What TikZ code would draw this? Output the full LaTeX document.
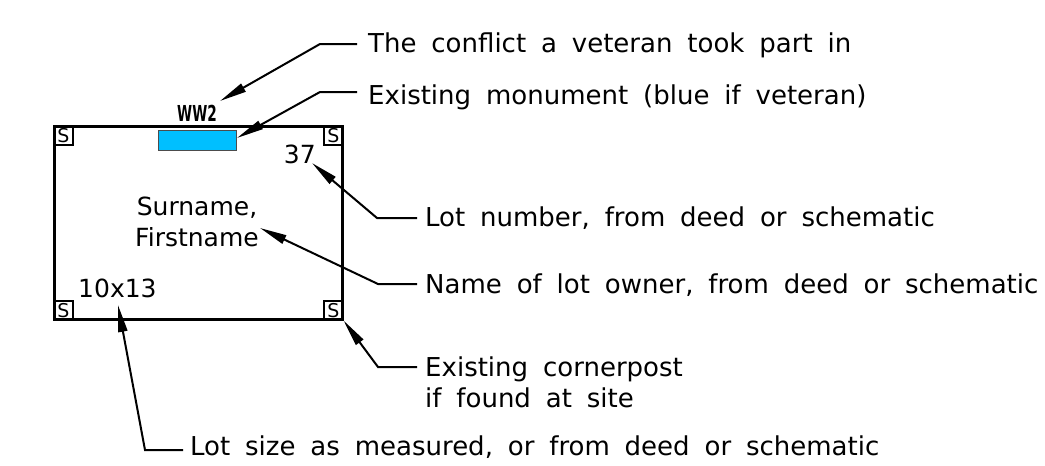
\documentclass[tikz,border=0pt]{standalone}
\usepackage{graphicx}
\usepackage{fontspec}
\setmainfont{DejaVu Sans}[WordSpace=1.8]
\usetikzlibrary{arrows.meta}
\begin{document}
\begin{tikzpicture}[x=1pt,y=-1pt,
  lbl/.style={anchor=base west,inner sep=0pt,font=\fontsize{26}{31}\selectfont},
  intext/.style={inner sep=0pt,font=\fontsize{25}{31}\selectfont},
  leader/.style={line width=2pt,-{Triangle[length=27pt,width=9pt]}},
  lot/.style={draw,line width=2.6pt},
  post/.style={draw,line width=1.6pt,minimum size=19pt,inner sep=0pt,font=\fontsize{19}{19}\selectfont}]
\useasboundingbox (0,0) rectangle (1045,466);
% lot
\node[lot,minimum width=288pt,minimum height=193pt,anchor=north west,inner sep=0pt] (lot) at (53,125) {};
\node[post,anchor=north west] (p1) at (lot.north west) {S};
\node[post,anchor=north east] (p2) at (lot.north east) {S};
\node[post,anchor=south west] (p3) at (lot.south west) {S};
\node[post,anchor=south east] (p4) at (lot.south east) {S};
\node[draw=black!70,fill={rgb,255:red,0;green,191;blue,255},line width=1pt,minimum width=78pt,minimum height=20pt,inner sep=0pt,anchor=north west] (mon) at (158,130) {};
\node[inner sep=0pt,anchor=base,font=\fontsize{22}{22}\selectfont\bfseries] (ww) at (197,121) {\scalebox{0.62}[1]{WW2}};
\node[intext,anchor=base east] (num) at (316,163) {37};
\node[intext,align=center] (name) at (197,222) {Surname,\\Firstname};
\node[intext,anchor=base west] (size) at (78,297) {10x13};
% labels
\node[lbl] (t1) at (368,52) {The conflict a veteran took part in};
\node[lbl] (t2) at (368,104) {Existing monument (blue if veteran)};
\node[lbl] (t3) at (425,226) {Lot number, from deed or schematic};
\node[lbl] (t4) at (425,293) {Name of lot owner, from deed or schematic};
\node[lbl] (t5) at (425,376) {Existing cornerpost};
\node[lbl] (t5b) at (425,407) {if found at site};
\node[lbl] (t6) at (190,455) {Lot size as measured, or from deed or schematic};
% leaders
\coordinate (e1) at (320,44); \coordinate (k1) at (357,44); \coordinate (a1) at (220,101);
\coordinate (e2) at (320,92); \coordinate (k2) at (357,92); \coordinate (a2) at (237,138);
\coordinate (e3) at (377,218); \coordinate (k3) at (417,218); \coordinate (a3) at (312,163);
\coordinate (e4) at (378,284); \coordinate (k4) at (417,284); \coordinate (a4) at (260,228);
\coordinate (e5) at (378,367); \coordinate (k5) at (417,367); \coordinate (a5) at (lot.south east);
\coordinate (e6) at (145,450); \coordinate (k6) at (183,450); \coordinate (a6) at (118,305);
\foreach \i in {1,...,6}{\draw[leader] (k\i) -- (e\i) -- (a\i);}
\end{tikzpicture}
\end{document}
